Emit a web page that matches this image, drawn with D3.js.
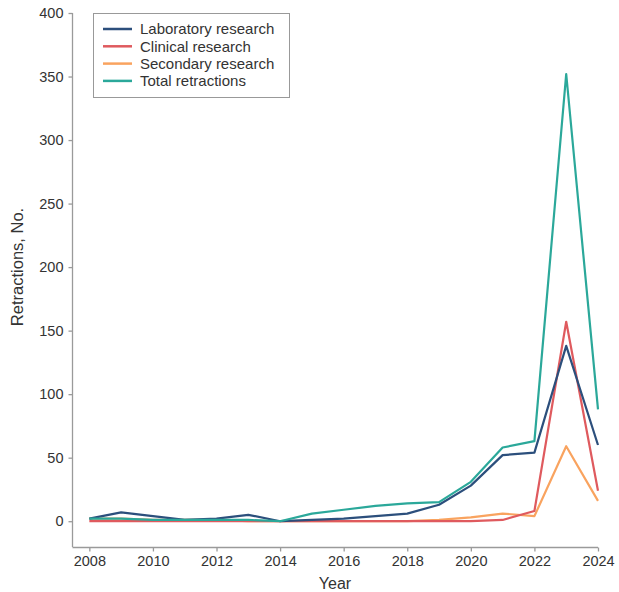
<!DOCTYPE html>
<html><head><meta charset="utf-8">
<script src="https://cdn.jsdelivr.net/npm/d3@7/dist/d3.min.js"></script>
<style>body{margin:0;background:#fff}svg{display:block}text{font-family:"Liberation Sans",Arial,Helvetica,sans-serif}</style>
</head><body><svg id="c" width="619" height="592"></svg>
<script>
const years = [2008,2009,2010,2011,2012,2013,2014,2015,2016,2017,2018,2019,2020,2021,2022,2023,2024];
const laboratory = [2,7,4,1,2,5,0,1,2,4,6,13,28,52,54,138,60];
const clinical   = [0,0,0,0,0,0,0,0,0,0,0,0,0,1,8,157,24];
const secondary  = [2,2,1,1,1,0,0,0,0,0,0,1,3,6,4,59,16];
const total      = [2,2,1,1,1,1,0,6,9,12,14,15,31,58,63,352,88];
const seriesNames = ["Laboratory research","Clinical research","Secondary research","Total retractions"];
const seriesColors = ["#2c4f7c","#df5a5e","#f9a35f","#2ba89a"];
const xTicks = [2008,2010,2012,2014,2016,2018,2020,2022,2024];
const yTicks = [0,50,100,150,200,250,300,350,400];

const svg = d3.select("#c");
const x = d3.scaleLinear().domain([2007.47,2024]).range([72.5,598]);
const y = d3.scaleLinear().domain([-20.3,400]).range([547,13]);

const axisColor = "#9a9a9a", textColor = "#333";

const gx = svg.append("g").attr("transform","translate(0,547.5)")
  .call(d3.axisBottom(x).tickValues(xTicks).tickFormat(d3.format("d")).tickSizeOuter(0).tickSize(4).tickPadding(4));
const gy = svg.append("g").attr("transform","translate(72.5,0)")
  .call(d3.axisLeft(y).tickValues(yTicks).tickSizeOuter(0).tickSize(4).tickPadding(5));
[gx,gy].forEach(g=>{
  g.select(".domain").attr("stroke",axisColor).attr("stroke-width",1.3);
  g.selectAll(".tick line").attr("stroke",axisColor).attr("stroke-width",1.3);
  g.selectAll(".tick text").attr("fill",textColor).attr("font-size",14.5).attr("font-family","Liberation Sans, Arial, sans-serif");
});
gy.select(".domain").attr("d","M0,13V547");
gx.select(".domain").attr("d","M72.5,0H598");

svg.append("text").attr("x",335).attr("y",589).attr("text-anchor","middle")
  .attr("font-size",16).attr("fill",textColor).text("Year");
svg.append("text").attr("transform","translate(23,267) rotate(-90)").attr("text-anchor","middle")
  .attr("font-size",16.5).attr("fill",textColor).text("Retractions, No.");

const data = [laboratory, clinical, secondary, total];
const line = d3.line().x((d,i)=>x(years[i])).y(d=>y(d));
[2,1,0,3].forEach(k=>{
  svg.append("path").datum(data[k]).attr("d",line).attr("fill","none")
    .attr("stroke",seriesColors[k]).attr("stroke-width",2.2).attr("stroke-linejoin","round");
});

const lg = svg.append("g");
lg.append("rect").attr("x",93.5).attr("y",13.5).attr("width",196).attr("height",84)
  .attr("fill","#fff").attr("stroke","#999").attr("stroke-width",1);
seriesNames.forEach((n,i)=>{
  const yy = 29 + i*17.3;
  lg.append("line").attr("x1",103).attr("x2",132).attr("y1",yy).attr("y2",yy)
    .attr("stroke",seriesColors[i]).attr("stroke-width",2.5);
  lg.append("text").attr("x",140).attr("y",yy).attr("dy","0.35em")
    .attr("font-size",15).attr("fill",textColor).text(n);
});
</script></body></html>
